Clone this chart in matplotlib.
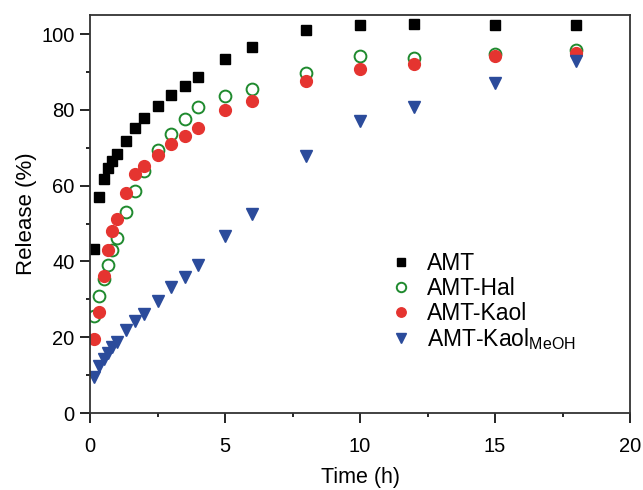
import matplotlib
matplotlib.use("Agg")
import matplotlib.pyplot as plt
from matplotlib.ticker import MultipleLocator

plt.rcParams['font.family'] = ['Liberation Sans', 'DejaVu Sans']
plt.rcParams['mathtext.fontset'] = 'custom'
plt.rcParams['mathtext.rm'] = 'Liberation Sans'

# release time points (h)
time = [0.15, 0.33, 0.5, 0.67, 0.83, 1, 1.33, 1.67, 2, 2.5, 3, 3.5, 4, 5, 6, 8, 10, 12, 15, 18]

amt = [43.4, 57.0, 61.7, 64.7, 66.6, 68.3, 71.7, 75.2, 77.9, 81.1, 83.9, 86.4, 88.6,
       93.4, 96.7, 101.0, 102.3, 102.6, 102.4, 102.4]
amt_hal = [25.7, 30.9, 35.3, 39.2, 43.0, 46.2, 53.0, 58.6, 63.8, 69.5, 73.7, 77.5, 80.7,
           83.7, 85.5, 89.8, 94.3, 93.6, 94.7, 95.8]
amt_kaol = [19.6, 26.6, 36.3, 43.0, 48.1, 51.3, 58.2, 63.0, 65.2, 68.2, 70.9, 73.0, 75.2,
            79.9, 82.4, 87.6, 90.9, 92.2, 94.1, 95.0]
amt_kaol_meoh = [9.6, 12.3, 14.2, 15.8, 17.5, 18.8, 21.9, 24.3, 26.1, 29.6, 33.2, 36.0, 39.2,
                 46.7, 52.6, 67.9, 77.2, 80.9, 87.1, 93.0]

labels = ['AMT', 'AMT-Hal', 'AMT-Kaol', r'AMT-Kaol$_{\mathrm{MeOH}}$']

fig = plt.figure(figsize=(6.43, 4.9), dpi=100)
ax = fig.add_axes([0.14, 0.157, 0.84, 0.812])

ax.plot(time, amt, 's', color='black', ms=7.5, label=labels[0])
ax.plot(time, amt_hal, 'o', mfc='white', mec='#1f8a2e', mew=1.4, ms=8.5, label=labels[1])
ax.plot(time, amt_kaol, 'o', color='#e53430', ms=8.5, label=labels[2])
ax.plot(time, amt_kaol_meoh, 'v', color='#2b4b9b', ms=9, label=labels[3])

ax.set_xlim(0, 20)
ax.set_ylim(0, 105)
ax.xaxis.set_major_locator(MultipleLocator(5))
ax.xaxis.set_minor_locator(MultipleLocator(2.5))
ax.yaxis.set_major_locator(MultipleLocator(20))
ax.yaxis.set_minor_locator(MultipleLocator(10))
ax.tick_params(which='both', direction='out', labelsize=14.5, width=1.2)
ax.tick_params(which='major', length=7)
ax.tick_params(which='minor', length=3)
ax.tick_params(axis='x', which='major', pad=10)
ax.tick_params(axis='y', which='major', pad=4)
for s in ax.spines.values():
    s.set_linewidth(1.3)
    s.set_color('#333333')

ax.set_xlabel('Time (h)', fontsize=15.5, labelpad=8)
ax.set_ylabel('Release (%)', fontsize=16, labelpad=3)

ax.legend(loc='upper left', bbox_to_anchor=(0.554, 0.405), frameon=False, fontsize=16.5,
          handlelength=1.0, handletextpad=0.65, labelspacing=0.08, borderpad=0.0,
          borderaxespad=0.0, markerscale=0.8)

fig.savefig('out.png', dpi=100)
